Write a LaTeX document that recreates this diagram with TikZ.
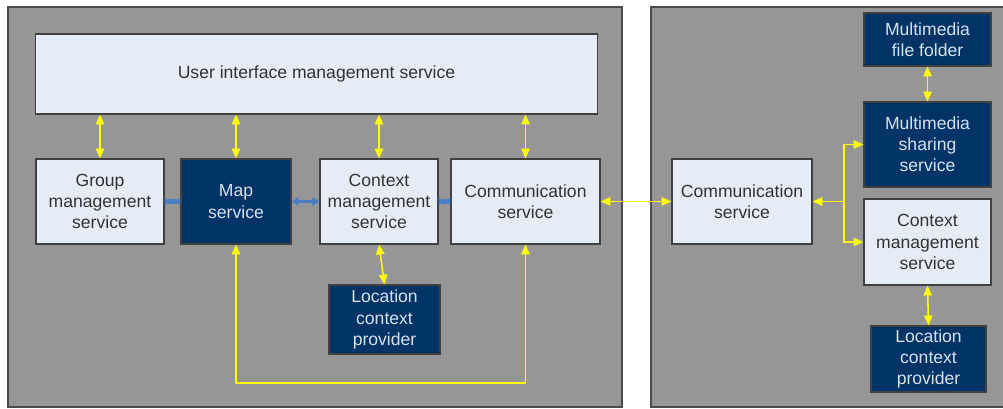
\documentclass[tikz,border=0pt]{standalone}
\usepackage{fontspec}
\setmainfont{Liberation Sans}
\usetikzlibrary{arrows.meta}
\definecolor{fondGris}{RGB}{150,150,150}
\definecolor{boiteClair}{RGB}{230,236,246}
\definecolor{boiteFonce}{RGB}{0,51,102}
\definecolor{texteFonce}{RGB}{50,50,50}
\definecolor{texteClair}{RGB}{215,226,240}
\definecolor{jaune}{RGB}{255,255,0}
\definecolor{bleuLien}{RGB}{74,126,194}
\tikzstyle{panel} = [draw=black!70, fill=fondGris, line width=0.8pt]
\tikzstyle{service} = [draw=black!75, fill=boiteClair, text=texteFonce, rectangle, inner sep=0pt, align=center, line width=0.8pt, font=\fontsize{12.5}{15}\selectfont, minimum height=2.125cm]
\tikzstyle{service_2} = [service, fill=boiteFonce, text=texteClair]
\tikzstyle{lien} = [<->, draw=jaune, line width=1.1pt]
\tikzstyle{lien_2} = [draw=bleuLien, line width=2.4pt, {Triangle[length=5pt,width=6pt]}-{Triangle[length=5pt,width=6pt]}]
\tikzstyle{lien_3} = [draw=bleuLien, line width=3.4pt, {Triangle[reversed,length=3pt,width=6.5pt]}-{Triangle[reversed,length=3pt,width=6.5pt]}]

\begin{document}
\begin{tikzpicture}[x=0.025cm, y=-0.025cm, >={Triangle[length=7pt,width=6pt]}]
    \useasboundingbox (0,0) rectangle (1003,408);
    % the two machines
    \draw[panel] (8,7) rectangle (622,407);
    \draw[panel] (651,7) rectangle (1012,407);

    % left machine
    \node [service, minimum width=14.025cm, minimum height=2cm] (ui) at (316.5,74) {User interface management service};
    \node [service, minimum width=3.2cm] (group) at (100,201.5) {Group\\management\\service};
    \node [service_2, minimum width=2.75cm] (map) at (236,201.5) {Map\\service};
    \node [service, minimum width=2.95cm] (ctx) at (379,201.5) {Context\\management\\service};
    \node [service, minimum width=3.725cm] (comm) at (525.5,201.5) {Communication\\service};
    \node [service_2, minimum width=2.775cm, minimum height=1.725cm] (loc) at (384.5,319.5) {Location\\context\\provider};

    % right machine
    \node [service, minimum width=3.5cm] (comm_r) at (742,201.5) {Communication\\service};
    \node [service_2, minimum width=3.175cm, minimum height=1.325cm] (folder) at (927.5,39.5) {Multimedia\\file folder};
    \node [service_2, minimum width=3.175cm] (sharing) at (927.5,144.5) {Multimedia\\sharing\\service};
    \node [service, minimum width=3.175cm, minimum height=2.15cm] (ctx_r) at (927.5,242) {Context\\management\\service};
    \node [service_2, minimum width=2.875cm, minimum height=1.65cm] (loc_r) at (928.5,359) {Location\\context\\provider};

    \coordinate (boucle) at (380,383);
    \coordinate (embr) at (844,201.5);

    \path
     (ui.south -| group.north) edge[lien] (group.north)
     (ui.south -| map.north) edge[lien] (map.north)
     (ui.south -| ctx.north) edge[lien] (ctx.north)
     (ui.south -| comm.north) edge[lien] (comm.north)
     (ctx.south) edge[lien] (loc.north)
     (comm.east) edge[lien] (comm_r.west)
     (folder.south) edge[lien] (sharing.north)
     (ctx_r.south) edge[lien] (loc_r.north);
    \draw[lien] (map.south) |- (boucle) -| (comm.south);
    \draw[lien] (comm_r.east) -- (embr) |- (sharing.west);
    \draw[->, draw=jaune, line width=1.1pt] (embr) |- (ctx_r.west);

    \draw[lien_3] (group.east) -- (map.west);
    \draw[lien_2] (map.east) -- (ctx.west);
    \draw[lien_3] (ctx.east) -- (comm.west);
\end{tikzpicture}
\end{document}
